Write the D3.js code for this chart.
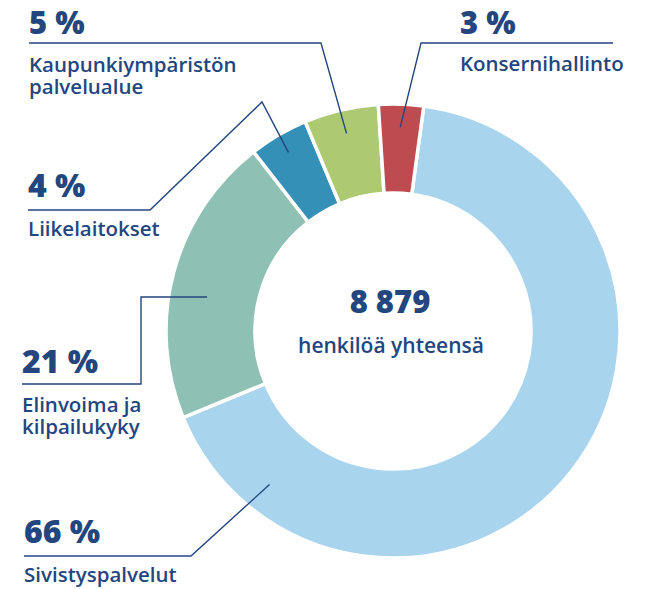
<!DOCTYPE html>
<html lang="en">
  <head>
    <meta charset="utf-8"/>
    <title>Henkilöstö toimialoittain</title>
    <script src="https://cdn.jsdelivr.net/npm/d3@7"></script>
    <style>
     body { margin: 0; background: #fff; }
     svg { display: block; }
     .pct { font-family: "Open Sans", sans-serif; font-weight: 800; font-size: 32px; fill: #24467f; }
     .name { font-family: "Open Sans", sans-serif; font-weight: 600; font-size: 20.5px; fill: #24467f; }
    </style>
  </head>
  <body>
    <script>
     // data ----------------------------------------------------------------
     const categories = ["Sivistyspalvelut", "Elinvoima ja kilpailukyky", "Liikelaitokset",
                         "Kaupunkiympäristön palvelualue", "Konsernihallinto"];
     const persons = [5914, 1838, 373, 470, 284];   // total 8 879
     const pctLabels = ["66 %", "21 %", "4 %", "5 %", "3 %"];
     const nameLines = [["Sivistyspalvelut"], ["Elinvoima ja", "kilpailukyky"], ["Liikelaitokset"],
                        ["Kaupunkiympäristön", "palvelualue"], ["Konsernihallinto"]];
     const colors = ["#a8d4ee", "#8ec1b3", "#3590b8", "#adc972", "#bd4b4f"];
     const totalLabel = "8 879";
     const totalText = "henkilöä yhteensä";

     const w = 655, h = 589;
     const cx = 393, cy = 331;
     const rOut = 227, rIn = 138;

     const svg = d3.select("body").append("svg").attr("width", w).attr("height", h);

     const pie = d3.pie().sort(null).value(d => d)
       .startAngle(7.8 * Math.PI / 180)
       .endAngle((7.8 + 360) * Math.PI / 180);
     const arcs = pie(persons);
     const arc = d3.arc().innerRadius(rIn).outerRadius(rOut);

     const g = svg.append("g").attr("transform", `translate(${cx},${cy})`);
     g.selectAll("path")
       .data(arcs)
       .enter()
       .append("path")
       .attr("d", arc)
       .attr("fill", (d, i) => colors[i])
       .attr("stroke", "#fff")
       .attr("stroke-width", 3.5);

     // label layout: where the text sits and how the leader line bends
     // t = position along the slice (0..1), r = radius where the line ends
     const layout = [
       { x: 24, pctY: 543, lineY: 556, nameY: 582, bend: [[191, 556]], t: 0.88, r: 197 },
       { x: 22, pctY: 373, lineY: 384, nameY: 412, bend: [[141, 384], [141, 297]], t: 0.44, r: 189, flat: true },
       { x: 28, pctY: 197, lineY: 210, nameY: 236, bend: [[150, 210], [262, 102]], t: 0.5, r: 207 },
       { x: 29, pctY: 34, lineY: 43, nameY: 72, bend: [[321, 43]], t: 0.5, r: 203, size: 31 },
       { x: 460, pctY: 34, lineY: 43, nameY: 71, bend: [[613, 43], [421, 43]], t: 0.5, r: 204, right: true, size: 31 }
     ];

     const line = d3.line();
     arcs.forEach((a, i) => {
       const L = layout[i];
       const ang = a.startAngle + (a.endAngle - a.startAngle) * L.t;
       let ex = cx + L.r * Math.sin(ang), ey = cy - L.r * Math.cos(ang);
       if (L.flat) ey = L.bend[L.bend.length - 1][1];
       const pts = L.right ? L.bend.concat([[ex, ey]]) : [[L.x, L.lineY]].concat(L.bend, [[ex, ey]]);
       svg.append("path")
         .attr("d", line(pts))
         .attr("fill", "none")
         .attr("stroke", "#24467f")
         .attr("stroke-width", 1.4);

       const p = svg.append("text").attr("class", "pct")
         .attr("x", L.x).attr("y", L.pctY)
         .text(pctLabels[i]);
       if (L.size) p.style("font-size", L.size + "px");

       const t = svg.append("text").attr("class", "name")
         .attr("x", L.x).attr("y", L.nameY);
       nameLines[i].forEach((s, k) => {
         t.append("tspan")
           .attr("x", L.x)
           .attr("dy", k === 0 ? 0 : 22)
           .text(s);
       });
     });

     // centre text
     svg.append("text").attr("class", "pct")
       .attr("x", 390).attr("y", 313)
       .attr("text-anchor", "middle")
       .style("font-size", "31px")
       .text(totalLabel);
     svg.append("text").attr("class", "name")
       .attr("x", 391).attr("y", 353)
       .attr("text-anchor", "middle")
       .style("font-size", "21px")
       .text(totalText);
    </script>
  </body>
</html>
